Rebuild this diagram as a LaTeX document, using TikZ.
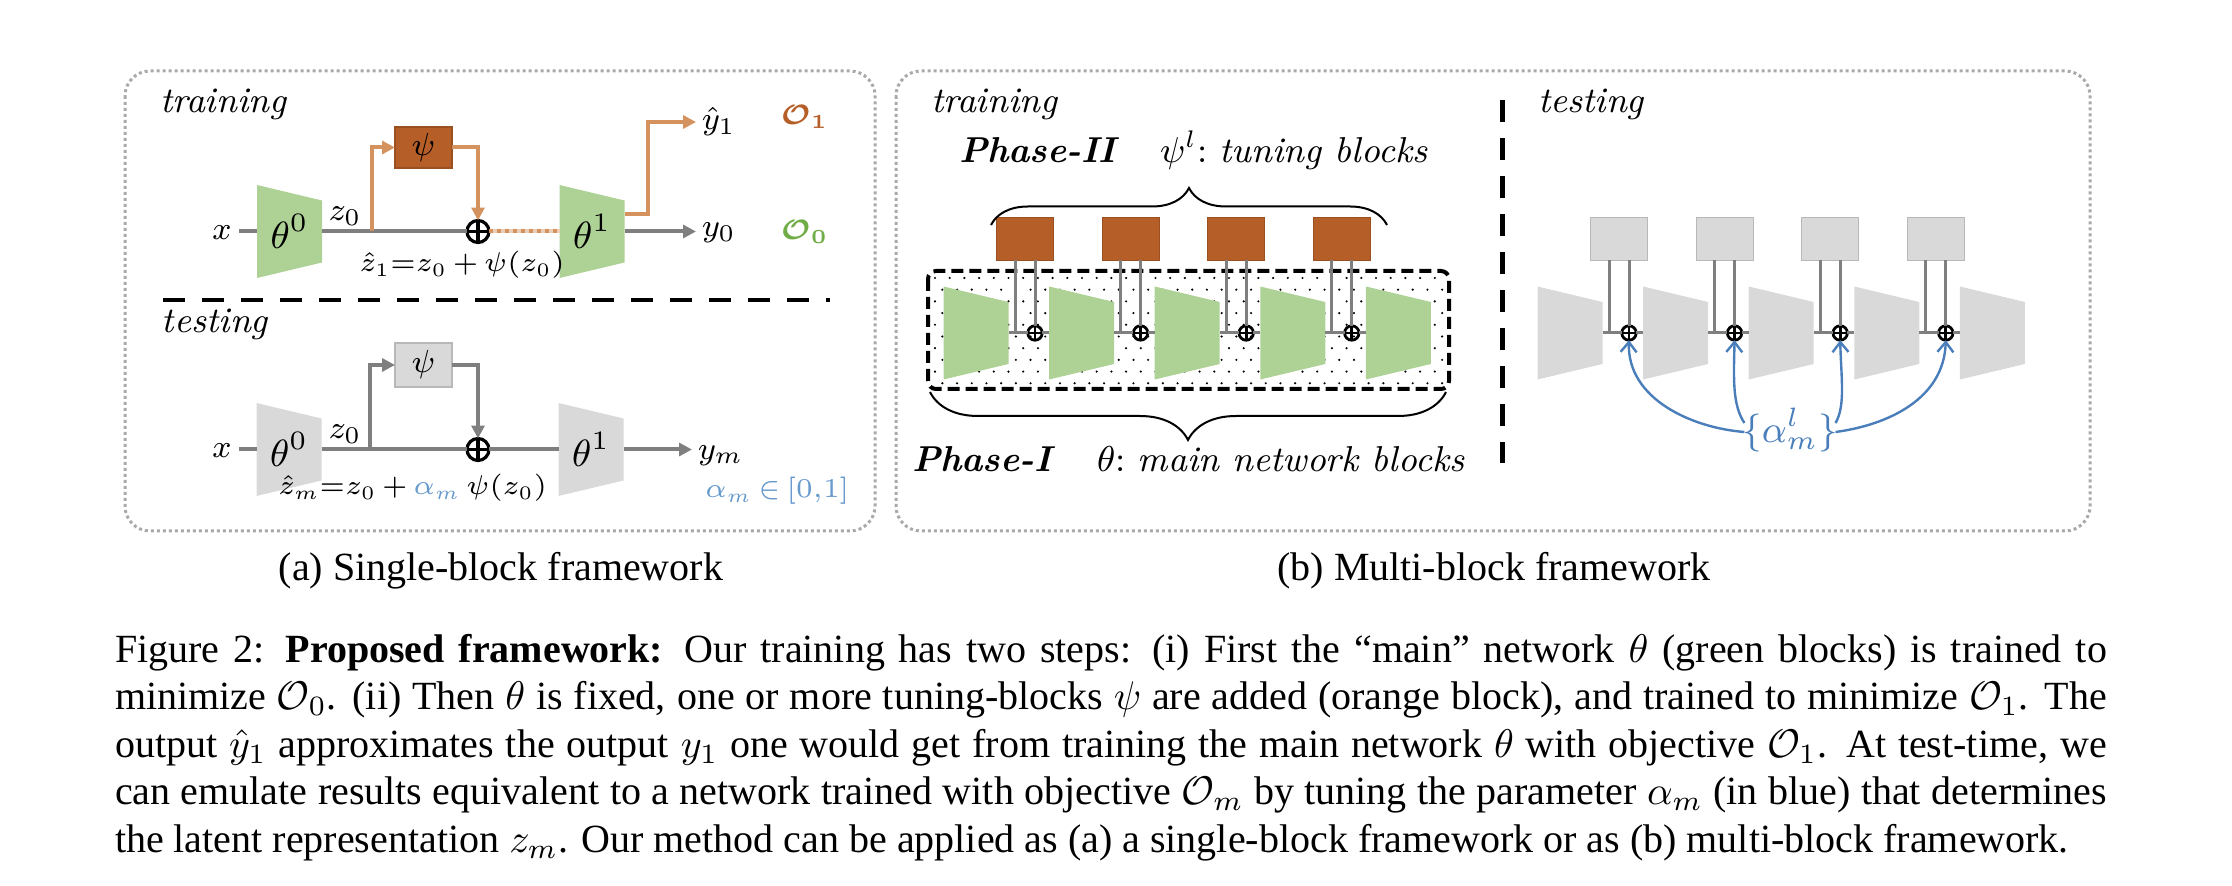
\RequirePackage{fix-cm}
\documentclass[tikz,border=0pt]{standalone}
\usepackage{fontspec}
\usepackage{amsmath,bm}
\usetikzlibrary{arrows.meta,calc,decorations.pathreplacing}
\newfontfamily\capfont{Liberation Serif}
\definecolor{orng}{HTML}{B65E28}
\definecolor{orngl}{HTML}{D4925E}
\definecolor{grn}{HTML}{AED195}
\definecolor{grnt}{HTML}{70AD47}
\definecolor{gfill}{HTML}{D9D9D9}
\definecolor{gline}{HTML}{7F7F7F}
\definecolor{gbord}{HTML}{A9A9A9}
\definecolor{blu}{HTML}{4A7EBB}
\definecolor{blul}{HTML}{6699CC}
\newcommand\fsz[1]{\fontsize{#1}{#1}\selectfont}
\tikzset{
  panel/.style={draw=gbord, line width=0.75pt, dash pattern=on 0.75pt off 0.75pt, rounded corners=6.25pt},
  trap/.style={minimum width=16.25pt, minimum height=23.25pt, inner sep=0pt, outer sep=0pt, font=\fsz{9.5pt},
    path picture={\fill[#1] (path picture bounding box.north west)
      -- ($(path picture bounding box.north east)!0.1667!(path picture bounding box.south east)$)
      -- ($(path picture bounding box.south east)!0.1667!(path picture bounding box.north east)$)
      -- (path picture bounding box.south west) -- cycle;}},
  psibox/.style={fill=#1, draw=#1!85!black, line width=0.3pt, minimum width=14.25pt, minimum height=10.25pt, inner sep=0pt, outer sep=0pt, font=\fsz{8pt}},
  oplus/.style={circle, draw, line width=#1, inner sep=0pt, outer sep=0pt,
    path picture={\draw[line width=#1] (path picture bounding box.north) -- (path picture bounding box.south) (path picture bounding box.west) -- (path picture bounding box.east);}},
  lbl/.style={inner sep=0pt, outer sep=0pt},
  mlbl/.style={lbl, font=\fsz{8pt}},
  gl/.style={draw=gline, line width=1pt},
  ol/.style={draw=orngl, line width=1pt},
  arr/.style={-{Triangle[length=3.2pt,width=3.2pt]}},
  thinl/.style={draw=gline, line width=0.75pt},
  hdr/.style={lbl, anchor=base west, font=\fsz{9pt}\itshape},
  bluarr/.style={draw=blu, line width=0.6pt, -{Straight Barb[length=2.5pt,width=4pt]}},
  capt/.style={lbl, anchor=base west, font=\capfont\fsz{10pt}},
}
\begin{document}
\begin{tikzpicture}[x=0.25pt, y=-0.25pt]
\useasboundingbox (0,0) rectangle (2232,886);
% panels
\draw[panel] (125,71) rectangle (875,531);
\draw[panel] (896,71) rectangle (2090,531);

% ===== (a) training =====
\node[hdr] (trA) at (160,113) {training};
\node[trap=grn] (a0) at (289.5,231.5) {$\theta^0$};
\node[trap=grn] (a1) at (592,231.5) {$\theta^1$};
\node[psibox=orng] (apsi) at (423.5,147.5) {$\psi$};
\node[oplus=0.8pt, minimum size=5.5pt] (ap) at (478,231.5) {};
\node[mlbl, anchor=base] (ax) at (222,240) {$x$};
\node[mlbl, anchor=base] (az) at (345,221) {$z_0$};
\node[lbl, anchor=base, font=\fsz{6.8pt}] (aeq) at (462,272) {$\hat z_1{=}z_0\,{+}\,\psi(z_0)$};
\node[mlbl, anchor=base west] (ayh) at (702,130) {$\hat y_1$};
\node[mlbl, anchor=base west] (ay0) at (702,237) {$y_0$};
\node[lbl, anchor=base, font=\fsz{7pt}, text=orng] (aO1) at (805,125) {$\bm{\mathcal{O}_1}$};
\node[lbl, anchor=base, font=\fsz{7pt}, text=grnt] (aO0) at (805,240) {$\bm{\mathcal{O}_0}$};
\coordinate (ab) at (372,231.5);
\coordinate (aout) at ($(a1.north east)!0.31!(a1.south east)$);
\draw[gl] ([xshift=1.8pt]ax.east |- a0.west) -- (a0.west);
\draw[gl] (a0.east) -- (ap.west);
\draw[ol, arr] (ab) |- (apsi.west);
\draw[ol, arr] (apsi.east) -| (ap.north);
\draw[draw=orngl!45, line width=1pt] (ap.east) -- (a1.west);
\draw[draw=orngl, line width=1pt, dash pattern=on 1pt off 1pt] (ap.east) -- (a1.west);
\draw[ol, arr, shorten >=1.5pt] (aout) -- ++(23,0) |- (ayh.west);
\draw[gl, arr, shorten >=1.5pt] (a1.east) -- (ay0.west |- a1.east);

% divider
\draw[line width=1pt, dash pattern=on 5.5pt off 4.25pt] (163,300) -- (830,300);

% ===== (a) testing =====
\node[hdr] (teA) at (162,333) {testing};
\node[trap=gfill] (b0) at (289,449.5) {$\theta^0$};
\node[trap=gfill] (b1) at (591,449.5) {$\theta^1$};
\node[psibox=gfill, minimum height=11pt] (bpsi) at (423.5,365) {$\psi$};
\node[oplus=0.8pt, minimum size=5.5pt] (bp) at (478,449.5) {};
\node[mlbl, anchor=base] (bx) at (222,458) {$x$};
\node[mlbl, anchor=base] (bz) at (345,439) {$z_0$};
\node[lbl, anchor=base east, font=\fsz{6.8pt}] (beq) at (547,495) {$\hat z_m{=}z_0\,{+}\,\textcolor{blul}{\alpha_m}\,\psi(z_0)$};
\node[mlbl, anchor=base west] (bym) at (698,460) {$y_m$};
\node[lbl, anchor=base west, font=\fsz{6.8pt}, text=blul] (bal) at (705,498) {$\alpha_m\,{\in}\,[0{,}1]$};
\coordinate (bb) at (370,449.5);
\draw[gl] ([xshift=1.8pt]bx.east |- b0.west) -- (b0.west);
\draw[gl] (b0.east) -- (bp.west);
\draw[gl, arr] (bb) |- (bpsi.west);
\draw[gl, arr] (bpsi.east) -| (bp.north);
\draw[gl] (bp.east) -- (b1.west);
\draw[gl, arr, shorten >=1.5pt] (b1.east) -- (bym.west |- b1.east);

% ===== (b) training =====
\node[hdr] (trB) at (931,113) {training};
\node[lbl, anchor=base west, font=\fsz{9pt}\bfseries\itshape] (ph2) at (959,163) {Phase-II};
\node[lbl, anchor=base west, font=\fsz{9pt}] (ph2t) at (1160,163) {$\psi^l$:~\textit{tuning blocks}};
\node[lbl, anchor=base west, font=\fsz{9pt}\bfseries\itshape] (ph1) at (912,472) {Phase-I};
\node[lbl, anchor=base west, font=\fsz{9pt}] (ph1t) at (1097,472) {$\theta$:~\textit{main network blocks}};
\foreach \r in {0,...,9}{
  \foreach \c in {0,...,34}{
    \fill ({935+mod(\r,2)*7.35+\c*14.7},{278+\r*11.7}) circle (0.3pt);
  }
}
\draw[line width=1pt, dash pattern=on 3pt off 1.5pt, rounded corners=2pt] (928,271) rectangle (1449,389);
\foreach \i in {0,...,4}{
  \node[trap=grn] (tr\i) at ({976+\i*105.6},333) {};
  \node[trap=gfill] (sr\i) at ({1570+\i*105.6},333) {};
}
\foreach \i in {0,...,3}{
  \node[psibox=orng, minimum height=10.75pt] (tb\i) at ({1025+\i*105.6},239) {};
  \node[psibox=gfill, minimum height=10.75pt] (sb\i) at ({1619+\i*105.6},239) {};
  \node[oplus=0.7pt, minimum size=3.6pt] (tp\i) at ({1035+\i*105.6},333) {};
  \node[oplus=0.7pt, minimum size=3.6pt] (sp\i) at ({1629+\i*105.6},333) {};
  \coordinate (tl\i) at ([xshift=-2.5pt]tb\i.south);
  \coordinate (tq\i) at ([xshift=2.5pt]tb\i.south);
  \coordinate (sl\i) at ([xshift=-2.5pt]sb\i.south);
  \coordinate (sq\i) at ([xshift=2.5pt]sb\i.south);
}
\foreach \i [evaluate=\i as \j using int(\i+1)] in {0,...,3}{
  \draw[thinl] (tr\i.east) -- (tp\i.west);
  \draw[thinl] (tp\i.east) -- (tr\j.west);
  \draw[thinl] (tl\i) -- (tl\i |- tr\i.east);
  \draw[thinl] (tq\i) -- (tp\i.north);
  \draw[thinl] (sr\i.east) -- (sp\i.west);
  \draw[thinl] (sp\i.east) -- (sr\j.west);
  \draw[thinl] (sl\i) -- (sl\i |- sr\i.east);
  \draw[thinl] (sq\i) -- (sp\i.north);
}
% braces
\coordinate (brL) at (991,225);
\coordinate (brR) at (1387,225);
\draw[line width=0.5pt, decorate, decoration={brace, amplitude=9.25pt}] (brL) -- (brR);
\coordinate (bbR) at (1446,392);
\coordinate (bbL) at (930,392);
\draw[line width=0.5pt, decorate, decoration={brace, amplitude=12pt}] (bbR) -- (bbL);

% vertical divider
\draw[line width=1.25pt, dash pattern=on 5.5pt off 4pt] (1502,100) -- (1502,463);

% ===== (b) testing =====
\node[hdr] (teB) at (1538,113) {testing};
\node[lbl, font=\fsz{9.5pt}, text=blu] (alab) at (1790,430) {$\{\alpha^l_m\}$};
\draw[bluarr] ($(alab.west)+(2,2)$) .. controls +(-52,-4) and +(-2,59) .. (sp0.south);
\draw[bluarr] ($(alab.west)+(2,-7)$) .. controls +(-12,-18) and +(-1,39) .. (sp1.south);
\draw[bluarr] ($(alab.east)+(-2,-7)$) .. controls +(10,-18) and +(1,39) .. (sp2.south);
\draw[bluarr] ($(alab.east)+(-2,2)$) .. controls +(52,-7) and +(-2,59) .. (sp3.south);

% sub-captions
\node[lbl, anchor=base, font=\capfont\fsz{10pt}] (capa) at (501,581) {(a) Single-block framework};
\node[lbl, anchor=base, font=\capfont\fsz{10pt}] (capb) at (1494,581) {(b) Multi-block framework};

% caption
\node[capt] (c1) at (115,662.7) {\makebox[498pt][s]{Figure 2: \textbf{Proposed framework:} Our training has two steps: (i) First the “main” network $\theta$ (green blocks) is trained to}};
\node[capt] (c2) at (115,710) {\makebox[498pt][s]{minimize $\mathcal{O}_0$. (ii) Then $\theta$ is fixed, one or more tuning-blocks $\psi$ are added (orange block), and trained to minimize $\mathcal{O}_1$. The}};
\node[capt] (c3) at (115,757.7) {\makebox[498pt][s]{output $\hat{y}_1$ approximates the output $y_1$ one would get from training the main network $\theta$ with objective $\mathcal{O}_1$. At test-time, we}};
\node[capt] (c4) at (115,805) {\makebox[498pt][s]{can emulate results equivalent to a network trained with objective $\mathcal{O}_m$ by tuning the parameter $\alpha_m$ (in blue) that determines}};
\node[capt] (c5) at (115,852.3) {the latent representation $z_m$. Our method can be applied as (a) a single-block framework or as (b) multi-block framework.};
\end{tikzpicture}
\end{document}
